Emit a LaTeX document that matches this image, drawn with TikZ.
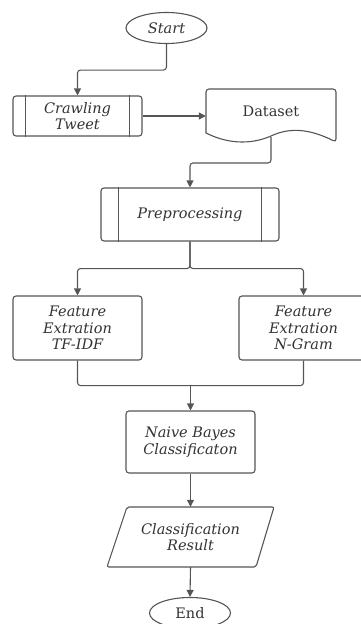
\documentclass[tikz,border=0pt]{standalone}
\usepackage{fontspec}
\setmainfont{DejaVu Serif}
\usetikzlibrary{shapes.geometric,arrows.meta}
\definecolor{linegray}{HTML}{555555}
\definecolor{textgray}{HTML}{333333}
\tikzset{
    flow-box/.style = {draw=linegray, line width=1.1pt, fill=white, rectangle, rounded corners=3pt, minimum width=129pt, align=center, text=textgray, font=\fontsize{14.5}{16.5}\selectfont\itshape},
    flow-term/.style = {draw=linegray, line width=1.1pt, ellipse, minimum width=81pt, minimum height=31pt, inner sep=0pt, text=textgray, font=\fontsize{14.5}{16.5}\selectfont},
    flow-text/.style = {align=center, text=textgray, font=\fontsize{14.5}{16.5}\selectfont},
    flow-line/.style = {draw=linegray, line width=1.1pt, rounded corners=3pt},
    flow-arrow/.style = {flow-line, -{Triangle[width=7pt,length=7pt]}},
}

\begin{document}
\begin{tikzpicture}[x=1pt,y=-1pt]
\useasboundingbox (0,0) rectangle (361,624);
% terminals
\node[flow-term] (start) at (166.5,28) {\itshape Start};
\node[flow-term] (end) at (190,613) {End};
% process boxes
\node[flow-box, minimum height=40pt] (crawl) at (77.5,116) {Crawling\\Tweet};
\node[flow-box, minimum width=178pt, minimum height=53pt] (prep) at (190,214.5) {Preprocessing};
\node[flow-box, minimum height=64pt] (tfidf) at (77.5,328) {Feature\\Extration\\TF-IDF};
\node[flow-box, minimum height=64pt] (ngram) at (303.5,328) {Feature\\Extration\\N-Gram};
\node[flow-box, minimum height=62pt] (nb) at (190.5,442) {Naive Bayes\\Classificaton};
% side bars of the predefined processes
\foreach \n/\d in {crawl/13pt, prep/18pt} {
    \draw[linegray, line width=1.1pt] ([xshift=\d]\n.north west) -- ([xshift=\d]\n.south west);
    \draw[linegray, line width=1.1pt] ([xshift=-\d]\n.north east) -- ([xshift=-\d]\n.south east);
}
% dataset (document shape)
\draw[linegray, line width=1.1pt, rounded corners=3pt] (206,133) -- (206,89) -- (336,89) -- (336,142)
    [sharp corners] .. controls (310,129) and (290,127) .. (271,136)
    .. controls (255,143) and (232,146) .. (206,133) -- cycle;
\node[flow-text, minimum width=130pt, minimum height=44pt, inner sep=0pt] (data) at (271,111) {Dataset};
\coordinate (dataout) at (271,137);
% classification result (data shape)
\draw[linegray, line width=1.1pt, rounded corners=2pt] (127,507) -- (274,507) -- (256,567) -- (107,567) -- cycle;
\node[flow-text, font=\fontsize{14.5}{16.5}\selectfont\itshape, minimum height=60pt, inner sep=0pt] (result) at (190.5,537) {Classification\\Result};
% connectors
\draw[flow-arrow] (start.south) -- ++(0,26) -| (crawl.north);
\draw[flow-arrow] (crawl.east) -- (crawl.east -| data.west);
\draw[flow-arrow] (dataout) -- ++(0,26) -| (prep.north);
\draw[flow-arrow] (prep.south) -- ++(0,27) -| (tfidf.north);
\draw[flow-arrow] (prep.south) -- ++(0,27) -| (ngram.north);
\draw[flow-line] (tfidf.south) -- ++(0,25) coordinate (join) -| (ngram.south);
\draw[flow-arrow] (join -| nb.north) -- (nb.north);
\draw[flow-arrow] (nb.south) -- (result.north);
\draw[flow-arrow] (result.south) -- (end.north);
\end{tikzpicture}
\end{document}
